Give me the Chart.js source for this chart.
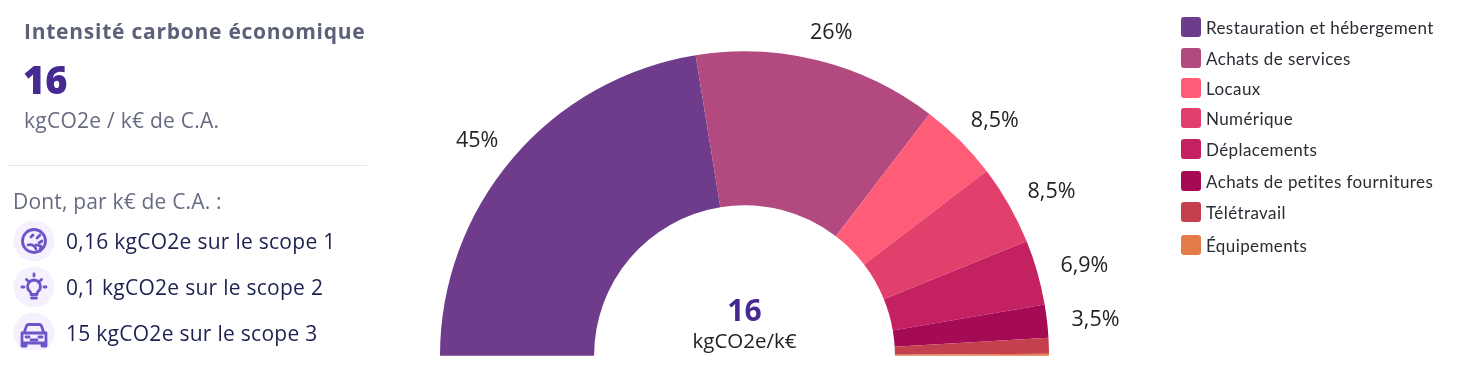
<!DOCTYPE html>
<html lang="fr">
<head>
<meta charset="utf-8">
<title>Intensité carbone économique</title>
<script src="https://cdn.jsdelivr.net/npm/chart.js@4/dist/chart.umd.min.js"></script>
<style>
html, body { margin: 0; padding: 0; background: #fff; overflow: hidden; }
body { width: 1462px; height: 373px; position: relative; font-family: "Open Sans", sans-serif; }
#chart { position: absolute; left: 0; top: 0; }
.txt { position: absolute; white-space: nowrap; line-height: 1; transform: translateY(-50%); }
#title { left: 24px; top: 31px; font: 700 21px "Open Sans", sans-serif; color: #5c6079; letter-spacing: .75px; }
#big { left: 23px; top: 79px; font: 800 38px "Open Sans", sans-serif; color: #472a91; }
#unit { left: 24px; top: 120px; font-size: 21px; color: #666b80; letter-spacing: .25px; }
#rule { position: absolute; left: 8px; top: 165px; width: 359px; height: 1px; background: #e6e6ee; }
#dont { left: 13px; top: 201px; font-size: 21px; color: #666b80; letter-spacing: .18px; }
.scope { left: 66px; font-size: 21px; color: #1c2150; letter-spacing: .27px; }
.icon { position: absolute; left: 13px; width: 42px; height: 41px; overflow: hidden; }
.icon.cut { height: 38px; }
.legend-box { position: absolute; left: 1181px; width: 20px; height: 20px; border-radius: 3px; }
.legend-txt { left: 1206px; font: 17px "Lato", sans-serif; color: #2b2b33; letter-spacing: .4px; }
</style>
</head>
<body>
<canvas id="chart" width="1462" height="373"></canvas>

<span class="txt" id="title">Intensité carbone économique</span>
<span class="txt" id="big">16</span>
<span class="txt" id="unit">kgCO2e / k€ de C.A.</span>
<div id="rule"></div>
<span class="txt" id="dont">Dont, par k€ de C.A. :</span>
<div id="scopes"></div>
<div id="legend"></div>

<script>
const categories = ["Restauration et hébergement", "Achats de services", "Locaux", "Numérique", "Déplacements", "Achats de petites fournitures", "Télétravail", "Équipements"];
const values = [45, 26, 8.5, 8.5, 6.9, 3.5, 1.7, 0.2];
const percentLabels = ["45%", "26%", "8,5%", "8,5%", "6,9%", "3,5%", "", ""];
const colors = ["#6f3b8b", "#b24a80", "#ff5c78", "#e2406c", "#c42160", "#a50a55", "#c4404e", "#e47b48"];
const scopeLines = ["0,16 kgCO2e sur le scope 1", "0,1 kgCO2e sur le scope 2", "15 kgCO2e sur le scope 3"];
const centerValue = "16";
const centerUnit = "kgCO2e/k€";

// positions des lignes (legende, scopes)
const legendRows = [27, 58, 88, 118, 149, 181, 212, 245];
const scopeRows = [241, 287, 333];

// petites icônes du panneau de gauche
const iconPaths = [
    '<circle cx="21" cy="21" r="11.5"/><path d="M15 25a6 6 0 0 1 8 4M27 15l-3 3M20 15l-2 2M29 21l-3 2"/><path d="M23 25l5 1-1 5"/>',
    '<path d="M21 14a6.5 6.5 0 0 0-4 11.500c1 1 1 2 1 3h6c0-1 0-2 1-3a6.500 6.500 0 0 0-4-11.500zM18.500 32h5"/><path d="M21 8v2M11 21H9M33 21h-2M13.500 13.500l1.500 1.500M28.500 13.500L27 15"/>',
    '<path d="M11 21l2.500-7a2 2 0 0 1 2-1.500h11a2 2 0 0 1 2 1.500L31 21M9 21h24M9 21v10h24V21M9 31v3h4v-3M29 31v3h4v-3"/><path d="M13 25h3M26 25h3M18 28h6"/>'
];

document.getElementById("scopes").innerHTML = scopeLines.map((line, i) => `
    <div class="icon${i == 2 ? " cut" : ""}" style="top:${scopeRows[i] - 21}px">
      <svg width="42" height="42" viewBox="0 0 42 42"><circle cx="21" cy="21" r="20.500" fill="#f5f0fe"/>
      <g fill="none" stroke="#6d54c8" stroke-width="2.800" stroke-linecap="round" stroke-linejoin="round">${iconPaths[i]}</g></svg>
    </div>
    <span class="txt scope" style="top:${scopeRows[i]}px">${line}</span>`).join("");

document.getElementById("legend").innerHTML = categories.map((name, i) => `
    <div class="legend-box" style="top:${legendRows[i] - 10}px;background:${colors[i]}"></div>
    <span class="txt legend-txt" style="top:${legendRows[i]}px">${name}</span>`).join("");

// étiquettes en % autour de l'arc, et texte au centre
const labelsPlugin = {
    id: "labelsPlugin",
    afterDraw(chart) {
        const ctx = chart.ctx;
        const arcs = chart.getDatasetMeta(0).data;
        ctx.save();
        ctx.textAlign = "center";
        ctx.textBaseline = "middle";
        ctx.fillStyle = "#222";
        ctx.font = '21.5px "Open Sans", sans-serif';
        arcs.forEach((arc, i) => {
            if (!percentLabels[i]) return;
            const mid = (arc.startAngle + arc.endAngle) / 2;
            const x = arc.x + 1 + Math.cos(mid) * arc.outerRadius * 1.157;
            const y = arc.y + 2 + Math.sin(mid) * arc.outerRadius * 1.1;
            ctx.fillText(percentLabels[i], x, y);
        });
        const c = arcs[0];
        ctx.fillStyle = "#472a91";
        ctx.font = '700 30px "Open Sans", sans-serif';
        ctx.fillText(centerValue, c.x, 312);
        ctx.fillStyle = "#222";
        ctx.font = '20.5px "Open Sans", sans-serif';
        ctx.fillText(centerUnit, c.x, 342);
        ctx.restore();
    }
};

new Chart(document.getElementById("chart"), {
    type: "doughnut",
    data: {
        labels: categories,
        datasets: [{ data: values, backgroundColor: colors, borderWidth: 0 }]
    },
    options: {
        responsive: false,
        animation: false,
        rotation: -90,
        circumference: 180,
        cutout: "49.4%",
        layout: { padding: { left: 440, right: 413, top: 51, bottom: 17 } },
        plugins: { legend: { display: false }, tooltip: { enabled: false } }
    },
    plugins: [labelsPlugin]
});
</script>
</body>
</html>
